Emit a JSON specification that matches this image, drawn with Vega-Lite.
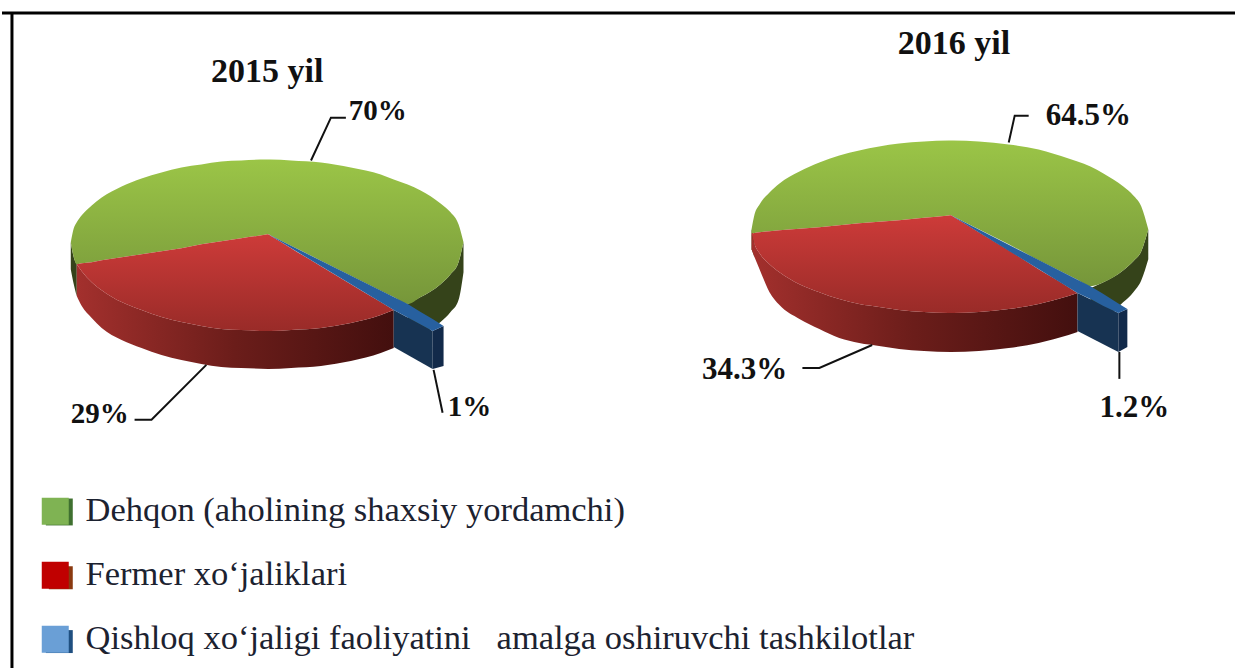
{"$schema":"https://vega.github.io/schema/vega-lite/v6.json","width":1237,"height":670,"autosize":{"type":"fit","contains":"padding"},"padding":0,"background":"white","view":{"stroke":null},
"config":{"legend":{"symbolType":"square"}},
"datasets":{"areas":[
{"pie":"2015","part":"greenSide","piece":"a","x":69,"y":243,"y2":270},{"pie":"2015","part":"greenSide","piece":"a","x":72,"y":258,"y2":285},{"pie":"2015","part":"greenSide","piece":"a","x":75,"y":265,"y2":297},
{"pie":"2015","part":"greenSide","piece":"b","x":407,"y":305,"y2":343},{"pie":"2015","part":"greenSide","piece":"b","x":420,"y":298,"y2":336},{"pie":"2015","part":"greenSide","piece":"b","x":440,"y":285,"y2":323},{"pie":"2015","part":"greenSide","piece":"b","x":450,"y":275,"y2":313},{"pie":"2015","part":"greenSide","piece":"b","x":458,"y":263,"y2":301},{"pie":"2015","part":"greenSide","piece":"b","x":463,"y":243,"y2":273},
{"pie":"2015","part":"redSide","piece":"a","x":75,"y":265,"y2":297},{"pie":"2015","part":"redSide","piece":"a","x":80,"y":272,"y2":307},{"pie":"2015","part":"redSide","piece":"a","x":90,"y":283,"y2":319},{"pie":"2015","part":"redSide","piece":"a","x":100,"y":291,"y2":329},{"pie":"2015","part":"redSide","piece":"a","x":120,"y":303,"y2":341},{"pie":"2015","part":"redSide","piece":"a","x":140,"y":311,"y2":349},{"pie":"2015","part":"redSide","piece":"a","x":160,"y":318,"y2":356},{"pie":"2015","part":"redSide","piece":"a","x":180,"y":323,"y2":361},{"pie":"2015","part":"redSide","piece":"a","x":200,"y":327,"y2":365},{"pie":"2015","part":"redSide","piece":"a","x":220,"y":330,"y2":368},{"pie":"2015","part":"redSide","piece":"a","x":240,"y":331,"y2":369},{"pie":"2015","part":"redSide","piece":"a","x":267,"y":332,"y2":370},{"pie":"2015","part":"redSide","piece":"a","x":290,"y":331,"y2":369},{"pie":"2015","part":"redSide","piece":"a","x":320,"y":329,"y2":367},{"pie":"2015","part":"redSide","piece":"a","x":350,"y":324,"y2":362},{"pie":"2015","part":"redSide","piece":"a","x":380,"y":316,"y2":354},{"pie":"2015","part":"redSide","piece":"a","x":393,"y":311,"y2":349},
{"pie":"2015","part":"greenTop","piece":"a","x":69,"y":243,"y2":243},{"pie":"2015","part":"greenTop","piece":"a","x":72,"y":229,"y2":258},{"pie":"2015","part":"greenTop","piece":"a","x":75,"y":223,"y2":265},{"pie":"2015","part":"greenTop","piece":"a","x":80,"y":216,"y2":264},{"pie":"2015","part":"greenTop","piece":"a","x":90,"y":206,"y2":263},{"pie":"2015","part":"greenTop","piece":"a","x":100,"y":198,"y2":261},{"pie":"2015","part":"greenTop","piece":"a","x":120,"y":187,"y2":258},{"pie":"2015","part":"greenTop","piece":"a","x":140,"y":179,"y2":255},{"pie":"2015","part":"greenTop","piece":"a","x":160,"y":173,"y2":252},{"pie":"2015","part":"greenTop","piece":"a","x":180,"y":168,"y2":249},{"pie":"2015","part":"greenTop","piece":"a","x":200,"y":165,"y2":245},{"pie":"2015","part":"greenTop","piece":"a","x":220,"y":162,"y2":242},{"pie":"2015","part":"greenTop","piece":"a","x":240,"y":161,"y2":239},{"pie":"2015","part":"greenTop","piece":"a","x":265,"y":160,"y2":235.3},{"pie":"2015","part":"greenTop","piece":"a","x":267,"y":160,"y2":235},{"pie":"2015","part":"greenTop","piece":"a","x":269,"y":160,"y2":236},{"pie":"2015","part":"greenTop","piece":"a","x":290,"y":161,"y2":246.5},{"pie":"2015","part":"greenTop","piece":"a","x":320,"y":163,"y2":261.5},{"pie":"2015","part":"greenTop","piece":"a","x":350,"y":168,"y2":276.5},{"pie":"2015","part":"greenTop","piece":"a","x":380,"y":175,"y2":291.5},{"pie":"2015","part":"greenTop","piece":"a","x":393,"y":180,"y2":298},{"pie":"2015","part":"greenTop","piece":"a","x":407,"y":185,"y2":305},{"pie":"2015","part":"greenTop","piece":"a","x":420,"y":191,"y2":298},{"pie":"2015","part":"greenTop","piece":"a","x":440,"y":204,"y2":285},{"pie":"2015","part":"greenTop","piece":"a","x":450,"y":213,"y2":275},{"pie":"2015","part":"greenTop","piece":"a","x":458,"y":225,"y2":263},{"pie":"2015","part":"greenTop","piece":"a","x":463,"y":243,"y2":243},
{"pie":"2015","part":"redTop","piece":"a","x":75,"y":265,"y2":265},{"pie":"2015","part":"redTop","piece":"a","x":80,"y":264,"y2":272},{"pie":"2015","part":"redTop","piece":"a","x":90,"y":263,"y2":283},{"pie":"2015","part":"redTop","piece":"a","x":100,"y":261,"y2":291},{"pie":"2015","part":"redTop","piece":"a","x":120,"y":258,"y2":303},{"pie":"2015","part":"redTop","piece":"a","x":140,"y":255,"y2":311},{"pie":"2015","part":"redTop","piece":"a","x":160,"y":252,"y2":318},{"pie":"2015","part":"redTop","piece":"a","x":180,"y":249,"y2":323},{"pie":"2015","part":"redTop","piece":"a","x":200,"y":245,"y2":327},{"pie":"2015","part":"redTop","piece":"a","x":220,"y":242,"y2":330},{"pie":"2015","part":"redTop","piece":"a","x":240,"y":239,"y2":331},{"pie":"2015","part":"redTop","piece":"a","x":265,"y":235.3,"y2":332},{"pie":"2015","part":"redTop","piece":"a","x":267,"y":235,"y2":332},{"pie":"2015","part":"redTop","piece":"a","x":269,"y":236.2,"y2":332},{"pie":"2015","part":"redTop","piece":"a","x":290,"y":249,"y2":331},{"pie":"2015","part":"redTop","piece":"a","x":320,"y":267,"y2":329},{"pie":"2015","part":"redTop","piece":"a","x":350,"y":285,"y2":324},{"pie":"2015","part":"redTop","piece":"a","x":380,"y":303,"y2":316},{"pie":"2015","part":"redTop","piece":"a","x":393,"y":311,"y2":311},
{"pie":"2015","part":"blueTop","piece":"a","x":267,"y":235,"y2":235},{"pie":"2015","part":"blueTop","piece":"a","x":393,"y":298,"y2":311},{"pie":"2015","part":"blueTop","piece":"a","x":407,"y":305,"y2":318.5},{"pie":"2015","part":"blueTop","piece":"a","x":420,"y":313,"y2":325.5},{"pie":"2015","part":"blueTop","piece":"a","x":432,"y":320,"y2":332},{"pie":"2015","part":"blueTop","piece":"a","x":443,"y":327,"y2":327},
{"pie":"2015","part":"blueFace","piece":"a","x":393,"y":311,"y2":348},{"pie":"2015","part":"blueFace","piece":"a","x":432,"y":332,"y2":370},
{"pie":"2015","part":"blueEnd","piece":"a","x":432,"y":332,"y2":370},{"pie":"2015","part":"blueEnd","piece":"a","x":443,"y":327,"y2":367},
{"pie":"2016","part":"greenSide","piece":"a","x":752,"y":230,"y2":250},{"pie":"2016","part":"greenSide","piece":"a","x":755,"y":240,"y2":258},
{"pie":"2016","part":"greenSide","piece":"b","x":1092,"y":289,"y2":328},{"pie":"2016","part":"greenSide","piece":"b","x":1105,"y":283,"y2":320},{"pie":"2016","part":"greenSide","piece":"b","x":1125,"y":271,"y2":303},{"pie":"2016","part":"greenSide","piece":"b","x":1135,"y":262,"y2":293},{"pie":"2016","part":"greenSide","piece":"b","x":1143,"y":252,"y2":281},{"pie":"2016","part":"greenSide","piece":"b","x":1150,"y":230,"y2":260},
{"pie":"2016","part":"redSide","piece":"a","x":752,"y":234,"y2":250},{"pie":"2016","part":"redSide","piece":"a","x":755,"y":245,"y2":258},{"pie":"2016","part":"redSide","piece":"a","x":760,"y":254,"y2":270},{"pie":"2016","part":"redSide","piece":"a","x":770,"y":265,"y2":293},{"pie":"2016","part":"redSide","piece":"a","x":780,"y":273,"y2":306},{"pie":"2016","part":"redSide","piece":"a","x":800,"y":285,"y2":320},{"pie":"2016","part":"redSide","piece":"a","x":820,"y":293,"y2":330},{"pie":"2016","part":"redSide","piece":"a","x":840,"y":300,"y2":339},{"pie":"2016","part":"redSide","piece":"a","x":860,"y":305,"y2":344},{"pie":"2016","part":"redSide","piece":"a","x":880,"y":308,"y2":347},{"pie":"2016","part":"redSide","piece":"a","x":900,"y":311,"y2":350},{"pie":"2016","part":"redSide","piece":"a","x":925,"y":313,"y2":352},{"pie":"2016","part":"redSide","piece":"a","x":952,"y":314,"y2":353},{"pie":"2016","part":"redSide","piece":"a","x":980,"y":313,"y2":352},{"pie":"2016","part":"redSide","piece":"a","x":1010,"y":310,"y2":349},{"pie":"2016","part":"redSide","piece":"a","x":1040,"y":305,"y2":344},{"pie":"2016","part":"redSide","piece":"a","x":1070,"y":297,"y2":336},{"pie":"2016","part":"redSide","piece":"a","x":1079,"y":294,"y2":333},
{"pie":"2016","part":"greenTop","piece":"a","x":752,"y":230,"y2":234},{"pie":"2016","part":"greenTop","piece":"a","x":755,"y":215,"y2":233.7},{"pie":"2016","part":"greenTop","piece":"a","x":760,"y":205,"y2":233},{"pie":"2016","part":"greenTop","piece":"a","x":770,"y":193,"y2":232},{"pie":"2016","part":"greenTop","piece":"a","x":780,"y":184,"y2":231},{"pie":"2016","part":"greenTop","piece":"a","x":800,"y":172,"y2":229.5},{"pie":"2016","part":"greenTop","piece":"a","x":820,"y":163,"y2":228},{"pie":"2016","part":"greenTop","piece":"a","x":840,"y":156,"y2":226},{"pie":"2016","part":"greenTop","piece":"a","x":860,"y":151,"y2":224},{"pie":"2016","part":"greenTop","piece":"a","x":880,"y":147,"y2":222.5},{"pie":"2016","part":"greenTop","piece":"a","x":900,"y":144,"y2":221},{"pie":"2016","part":"greenTop","piece":"a","x":925,"y":142,"y2":218.5},{"pie":"2016","part":"greenTop","piece":"a","x":950,"y":141,"y2":216.2},{"pie":"2016","part":"greenTop","piece":"a","x":952,"y":141,"y2":216},{"pie":"2016","part":"greenTop","piece":"a","x":954,"y":141,"y2":217},{"pie":"2016","part":"greenTop","piece":"a","x":980,"y":142,"y2":230},{"pie":"2016","part":"greenTop","piece":"a","x":1010,"y":145,"y2":245},{"pie":"2016","part":"greenTop","piece":"a","x":1040,"y":150,"y2":261},{"pie":"2016","part":"greenTop","piece":"a","x":1070,"y":159,"y2":276},{"pie":"2016","part":"greenTop","piece":"a","x":1079,"y":162,"y2":280.5},{"pie":"2016","part":"greenTop","piece":"a","x":1092,"y":167,"y2":287},{"pie":"2016","part":"greenTop","piece":"a","x":1105,"y":174,"y2":283},{"pie":"2016","part":"greenTop","piece":"a","x":1125,"y":187,"y2":271},{"pie":"2016","part":"greenTop","piece":"a","x":1135,"y":196,"y2":262},{"pie":"2016","part":"greenTop","piece":"a","x":1143,"y":207,"y2":252},{"pie":"2016","part":"greenTop","piece":"a","x":1150,"y":230,"y2":230},
{"pie":"2016","part":"redTop","piece":"a","x":752,"y":234,"y2":234},{"pie":"2016","part":"redTop","piece":"a","x":755,"y":233.7,"y2":245},{"pie":"2016","part":"redTop","piece":"a","x":760,"y":233,"y2":254},{"pie":"2016","part":"redTop","piece":"a","x":770,"y":232,"y2":265},{"pie":"2016","part":"redTop","piece":"a","x":780,"y":231,"y2":273},{"pie":"2016","part":"redTop","piece":"a","x":800,"y":229.5,"y2":285},{"pie":"2016","part":"redTop","piece":"a","x":820,"y":228,"y2":293},{"pie":"2016","part":"redTop","piece":"a","x":840,"y":226,"y2":300},{"pie":"2016","part":"redTop","piece":"a","x":860,"y":224,"y2":305},{"pie":"2016","part":"redTop","piece":"a","x":880,"y":222.5,"y2":308},{"pie":"2016","part":"redTop","piece":"a","x":900,"y":221,"y2":311},{"pie":"2016","part":"redTop","piece":"a","x":925,"y":218.5,"y2":313},{"pie":"2016","part":"redTop","piece":"a","x":950,"y":216.2,"y2":314},{"pie":"2016","part":"redTop","piece":"a","x":952,"y":216,"y2":314},{"pie":"2016","part":"redTop","piece":"a","x":954,"y":217.2,"y2":314},{"pie":"2016","part":"redTop","piece":"a","x":980,"y":233,"y2":313},{"pie":"2016","part":"redTop","piece":"a","x":1010,"y":251,"y2":310},{"pie":"2016","part":"redTop","piece":"a","x":1040,"y":270,"y2":305},{"pie":"2016","part":"redTop","piece":"a","x":1070,"y":288,"y2":297},{"pie":"2016","part":"redTop","piece":"a","x":1079,"y":294,"y2":294},
{"pie":"2016","part":"blueTop","piece":"a","x":952,"y":216,"y2":216},{"pie":"2016","part":"blueTop","piece":"a","x":1079,"y":280.5,"y2":294},{"pie":"2016","part":"blueTop","piece":"a","x":1092,"y":287,"y2":300},{"pie":"2016","part":"blueTop","piece":"a","x":1105,"y":295,"y2":307},{"pie":"2016","part":"blueTop","piece":"a","x":1120,"y":304.4,"y2":314},{"pie":"2016","part":"blueTop","piece":"a","x":1129,"y":310,"y2":310},
{"pie":"2016","part":"blueFace","piece":"a","x":1079,"y":294,"y2":332},{"pie":"2016","part":"blueFace","piece":"a","x":1120,"y":314,"y2":353},
{"pie":"2016","part":"blueEnd","piece":"a","x":1120,"y":314,"y2":353},{"pie":"2016","part":"blueEnd","piece":"a","x":1129,"y":310,"y2":348}
],
"leaders":[
{"id":"a","o":1,"x":310,"y":161},{"id":"a","o":2,"x":330,"y":118},{"id":"a","o":3,"x":345,"y":118},
{"id":"b","o":1,"x":205,"y":366},{"id":"b","o":2,"x":150,"y":421},{"id":"b","o":3,"x":133,"y":421},
{"id":"c","o":1,"x":433,"y":371},{"id":"c","o":2,"x":442,"y":414},
{"id":"d","o":1,"x":1010,"y":143},{"id":"d","o":2,"x":1016,"y":116},{"id":"d","o":3,"x":1030,"y":116},
{"id":"e","o":1,"x":873,"y":346},{"id":"e","o":2,"x":820,"y":369},{"id":"e","o":3,"x":803,"y":369},
{"id":"f","o":1,"x":1121,"y":353},{"id":"f","o":2,"x":1121,"y":380}
]},
"layer":[
{"data":{"values":[{"x":0,"x2":1237,"y":13,"y2":13},{"x":10,"x2":10,"y":13,"y2":670}]},"mark":{"type":"rule","color":"black","strokeWidth":3},"encoding":{"x":{"field":"x","type":"quantitative","scale":{"domain":[0,1237],"nice":false,"zero":false},"axis":null},"x2":{"field":"x2"},"y":{"field":"y","type":"quantitative","scale":{"domain":[670,0],"nice":false,"zero":false},"axis":null},"y2":{"field":"y2"}}},
{"data":{"values":[{"series":"Dehqon (aholining shaxsiy yordamchi)","y2015":70,"y2016":64.5},{"series":"Fermer xo‘jaliklari","y2015":29,"y2016":34.3},{"series":"Qishloq xo‘jaligi faoliyatini\u00a0\u00a0\u00a0amalga oshiruvchi tashkilotlar","y2015":1,"y2016":1.2}]},"mark":{"type":"area"},"encoding":{"x":{"datum":0,"type":"quantitative"},"y":{"datum":0,"type":"quantitative"},"color":{"field":"series","type":"nominal","sort":null,"scale":{"domain":["Dehqon (aholining shaxsiy yordamchi)","Fermer xo‘jaliklari","Qishloq xo‘jaligi faoliyatini\u00a0\u00a0\u00a0amalga oshiruvchi tashkilotlar"],"range":["#7fb353","#c00000","#6a9fd6"]},"legend":{"title":null,"orient":"none","legendX":36,"legendY":494,"padding":0,"symbolType":"square","symbolSize":729,"symbolStrokeWidth":0,"labelFont":"Liberation Serif","labelFontSize":34.5,"labelColor":"#1c2230","labelLimit":1100,"rowPadding":29,"labelOffset":13}}}},
{"data":{"values":[{"x":44,"x2":71,"y":500,"y2":527,"c":"a"},{"x":47,"x2":71,"y":568,"y2":591,"c":"b"},{"x":44,"x2":71,"y":632,"y2":655,"c":"c"}]},"mark":{"type":"rect","color":"#3f7030"},"encoding":{"x":{"field":"x","type":"quantitative"},"x2":{"field":"x2"},"y":{"field":"y","type":"quantitative"},"y2":{"field":"y2"},"fill":{"field":"c","type":"nominal","legend":null,"scale":{"domain":["a","b","c"],"range":["#3f7030","#8a3a10","#1f4f80"]}}}},
{"data":{"name":"areas"},"transform":[{"filter":"datum.part==='greenSide'"}],"mark":{"type":"area","orient":"vertical","interpolate":"monotone","color":"#35431a"},"encoding":{"x":{"field":"x","type":"quantitative"},"y":{"field":"y","type":"quantitative","stack":null},"y2":{"field":"y2"},"detail":[{"field":"pie"},{"field":"piece"}]}},
{"data":{"name":"areas"},"transform":[{"filter":"datum.part==='redSide'"}],"mark":{"type":"area","orient":"vertical","interpolate":"monotone","color":{"gradient":"linear","x1":0,"y1":0,"x2":1,"y2":0,"stops":[{"offset":0,"color":"#a3302d"},{"offset":0.5,"color":"#6b1d1a"},{"offset":1,"color":"#430f0e"}]}},"encoding":{"x":{"field":"x","type":"quantitative"},"y":{"field":"y","type":"quantitative","stack":null},"y2":{"field":"y2"},"detail":{"field":"pie"}}},
{"data":{"name":"areas"},"transform":[{"filter":"datum.part==='greenTop'"}],"mark":{"type":"area","orient":"vertical","interpolate":"monotone","color":{"gradient":"linear","x1":0,"y1":0,"x2":0,"y2":1,"stops":[{"offset":0,"color":"#9bc547"},{"offset":1,"color":"#76963a"}]}},"encoding":{"x":{"field":"x","type":"quantitative"},"y":{"field":"y","type":"quantitative","stack":null},"y2":{"field":"y2"},"detail":{"field":"pie"}}},
{"data":{"name":"areas"},"transform":[{"filter":"datum.part==='redTop'"}],"mark":{"type":"area","orient":"vertical","interpolate":"monotone","color":{"gradient":"linear","x1":0,"y1":0,"x2":0,"y2":1,"stops":[{"offset":0,"color":"#cd3b39"},{"offset":1,"color":"#992b28"}]}},"encoding":{"x":{"field":"x","type":"quantitative"},"y":{"field":"y","type":"quantitative","stack":null},"y2":{"field":"y2"},"detail":{"field":"pie"}}},
{"data":{"name":"areas"},"transform":[{"filter":"datum.part==='blueFace'"}],"mark":{"type":"area","orient":"vertical","color":"#173352"},"encoding":{"x":{"field":"x","type":"quantitative"},"y":{"field":"y","type":"quantitative","stack":null},"y2":{"field":"y2"},"detail":{"field":"pie"}}},
{"data":{"name":"areas"},"transform":[{"filter":"datum.part==='blueEnd'"}],"mark":{"type":"area","orient":"vertical","color":"#122a4a"},"encoding":{"x":{"field":"x","type":"quantitative"},"y":{"field":"y","type":"quantitative","stack":null},"y2":{"field":"y2"},"detail":{"field":"pie"}}},
{"data":{"name":"areas"},"transform":[{"filter":"datum.part==='blueTop'"}],"mark":{"type":"area","orient":"vertical","color":"#27609f"},"encoding":{"x":{"field":"x","type":"quantitative"},"y":{"field":"y","type":"quantitative","stack":null},"y2":{"field":"y2"},"detail":{"field":"pie"}}},
{"data":{"name":"leaders"},"mark":{"type":"line","color":"#111111","strokeWidth":2},"encoding":{"x":{"field":"x","type":"quantitative"},"y":{"field":"y","type":"quantitative","stack":null},"order":{"field":"o"},"detail":{"field":"id"}}},
{"data":{"values":[{"t":"2015 yil","x":266,"y":72},{"t":"2016 yil","x":955,"y":44}]},"mark":{"type":"text","font":"Liberation Serif","fontWeight":"bold","fontSize":34,"color":"#111111","align":"center","baseline":"middle"},"encoding":{"x":{"field":"x","type":"quantitative"},"y":{"field":"y","type":"quantitative"},"text":{"field":"t"}}},
{"data":{"values":[{"t":"70%","x":377,"y":111},{"t":"29%","x":98,"y":415},{"t":"1%","x":469,"y":408}]},"mark":{"type":"text","font":"Liberation Serif","fontWeight":"bold","fontSize":29,"color":"#111111","align":"center","baseline":"middle"},"encoding":{"x":{"field":"x","type":"quantitative"},"y":{"field":"y","type":"quantitative"},"text":{"field":"t"}}},
{"data":{"values":[{"t":"64.5%","x":1090,"y":116},{"t":"34.3%","x":745,"y":371},{"t":"1.2%","x":1136,"y":409}]},"mark":{"type":"text","font":"Liberation Serif","fontWeight":"bold","fontSize":31,"color":"#111111","align":"center","baseline":"middle"},"encoding":{"x":{"field":"x","type":"quantitative"},"y":{"field":"y","type":"quantitative"},"text":{"field":"t"}}}
]}
